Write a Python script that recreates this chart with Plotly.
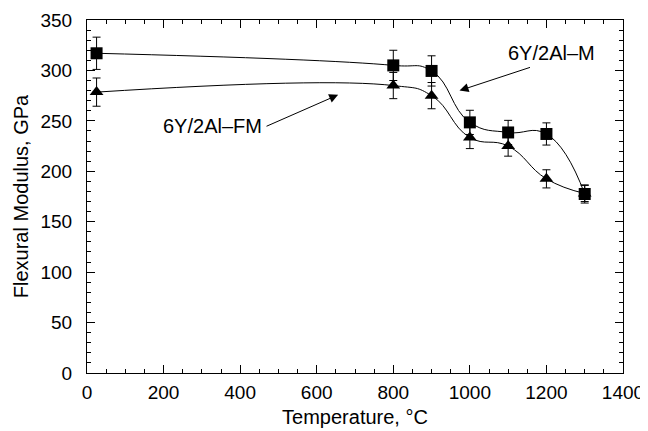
import plotly.graph_objects as go

temps = [25, 800, 900, 1000, 1100, 1200, 1300]
mod_m = [317, 305, 299.5, 248.5, 238.5, 237, 177.5]
err_m = [16, 15, 15, 12, 12, 11, 9]
mod_fm = [278.5, 285, 275, 233.5, 225, 192.5, 178]
err_fm = [14, 13, 13, 11, 10, 9, 8]

label_m = "6Y/2Al\u2013M"
label_fm = "6Y/2Al\u2013FM"

FONT = "Liberation Sans, Arial, Helvetica, sans-serif"
TICK_SIZE = 19
TITLE_SIZE = 20

fig = go.Figure()
fig.add_trace(go.Scatter(
    x=temps, y=mod_fm, mode="lines+markers", name=label_fm,
    line=dict(color="black", width=1, shape="spline", smoothing=1.3),
    marker=dict(symbol="triangle-up", size=12, color="black"),
    error_y=dict(type="data", array=err_fm, color="black", thickness=1, width=4),
))
fig.add_trace(go.Scatter(
    x=temps, y=mod_m, mode="lines+markers", name=label_m,
    line=dict(color="black", width=1, shape="spline", smoothing=1.3),
    marker=dict(symbol="square", size=12, color="black"),
    error_y=dict(type="data", array=err_m, color="black", thickness=1, width=4),
))

fig.add_annotation(x=973, y=280, ax=1161, ay=303.5, axref="x", ayref="y",
                   text="", showarrow=True, arrowhead=2, arrowsize=1.8, arrowwidth=1,
                   arrowcolor="black", standoff=0)
fig.add_annotation(x=1214, y=317, text=label_m, showarrow=False,
                   font=dict(family=FONT, size=TITLE_SIZE, color="black"))
fig.add_annotation(x=656, y=275.8, ax=465, ay=244, axref="x", ayref="y",
                   text="", showarrow=True, arrowhead=2, arrowsize=1.8, arrowwidth=1,
                   arrowcolor="black", standoff=0)
fig.add_annotation(x=461, y=245, text=label_fm, showarrow=False, xanchor="right",
                   font=dict(family=FONT, size=TITLE_SIZE, color="black"))

axis_common = dict(
    showgrid=False, zeroline=False, showline=True, linecolor="black", linewidth=1,
    mirror="ticks", ticks="inside", ticklen=8, tickcolor="black", tickwidth=1,
    tickfont=dict(family=FONT, size=TICK_SIZE, color="black"),
    automargin=False,
)
fig.update_xaxes(
    range=[0, 1400], dtick=200, tick0=0,
    title=dict(text="Temperature, \u00b0C", font=dict(family=FONT, size=TITLE_SIZE, color="black"), standoff=8),
    minor=dict(ticks="inside", dtick=50, ticklen=4, tickcolor="black", showgrid=False),
    ticklabelstandoff=2,
    **axis_common,
)
fig.update_yaxes(
    range=[0, 350], dtick=50, tick0=0,
    title=dict(text="Flexural Modulus, GPa", font=dict(family=FONT, size=TITLE_SIZE, color="black"), standoff=6),
    minor=dict(ticks="inside", dtick=10, ticklen=4, tickcolor="black", showgrid=False),
    ticklabelstandoff=10,
    **axis_common,
)
fig.update_layout(
    width=640, height=423,
    margin=dict(l=79, r=25, t=12, b=58),
    plot_bgcolor="white", paper_bgcolor="white",
    showlegend=False,
    font=dict(family=FONT, size=TICK_SIZE, color="black"),
)
fig.write_html("out.html")
